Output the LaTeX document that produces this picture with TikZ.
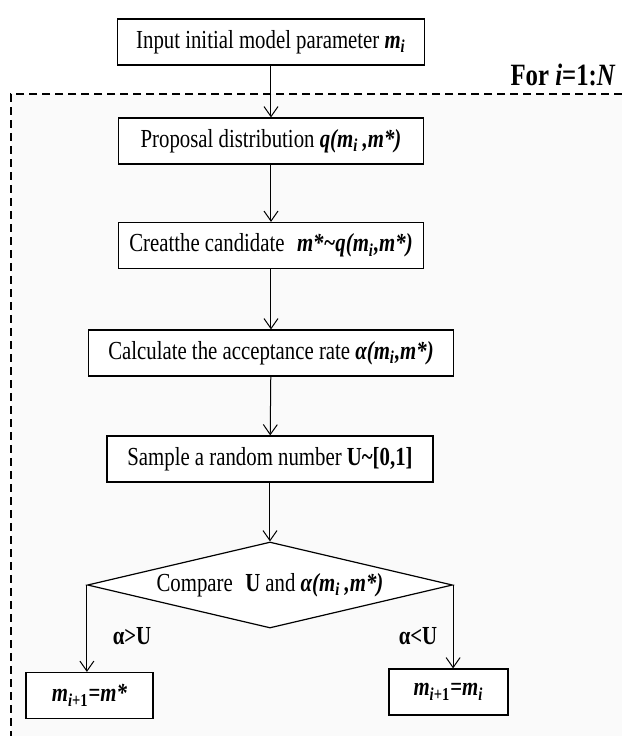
\documentclass[tikz,border=0pt]{standalone}
\usepackage{fontspec}
\setmainfont{Liberation Serif}[FakeStretch=0.8]
\usepackage{tikz}
\usetikzlibrary{shapes.geometric,arrows.meta,positioning}
\newcommand{\bi}[1]{\textbf{\textit{#1}}}
\begin{document}
\begin{tikzpicture}[
    x=0.5pt, y=-0.5pt,
    box/.style={rectangle, draw=black, line width=0.6pt, fill=white, minimum height=23pt, inner sep=0pt, align=center, font=\fontsize{13}{15}\selectfont},
    decision/.style={diamond, aspect=4.24, draw=black, line width=0.6pt, fill=white, minimum width=182.5pt, minimum height=43pt, inner sep=0pt, align=center, font=\fontsize{13}{15}\selectfont},
    line/.style={line width=0.5pt, draw=black, -{Straight Barb[length=5pt,width=7pt]}},
    cond/.style={font=\fontsize{13}{15}\selectfont\bfseries, inner sep=1pt}
]

\useasboundingbox (0,0) rectangle (622,736);

% Loop region
\fill[black!2] (11,94) rectangle (622,736);
\draw[line width=0.65pt, dash pattern=on 4pt off 2.5pt] (622,94) -- (11,94) -- (11,736);
\node[font=\fontsize{15.5}{18}\selectfont\bfseries, anchor=south east, inner sep=0pt] (loop) at (616,86) {For \bi{i}=1:\bi{N}};

% Steps
\node[box, minimum width=153.5pt] (input) at (271,42) {Input initial model parameter \bi{m}\textsubscript{\bi{i}}};
\node[box, minimum width=152.5pt] (proposal) at (271,141) {Proposal distribution \bi{q(m}\textsubscript{\bi{i}}\,\bi{,m*)}};
\node[box, minimum width=152.5pt] (candidate) at (271,245.5) {Creatthe candidate\; \bi{m*\textasciitilde q(m}\textsubscript{\bi{i}}\bi{,m*)}};
\node[box, minimum width=182.5pt] (rate) at (271,353) {Calculate the acceptance rate \bi{α(m}\textsubscript{\bi{i}}\bi{,m*)}};
\node[box, minimum width=163pt] (sample) at (270,459) {Sample a random number \textbf{U\textasciitilde[0,1]}};
\node[decision] (compare) at (270,585) {Compare\; \textbf{U} and \bi{α(m}\textsubscript{\bi{i}}\,\bi{,m*)}};

% Outcomes
\node[box, minimum width=63.5pt] (accept) at (89.5,695.5) {\bi{m}\textsubscript{\bi{i}\textbf{+1}}\textbf{=}\bi{m*}};
\node[box, minimum width=59.5pt] (reject) at (448.5,692) {\bi{m}\textsubscript{\bi{i}\textbf{+1}}\textbf{=}\bi{m}\textsubscript{\bi{i}}};

% Connections
\draw[line] (input) -- (proposal);
\draw[line] (proposal) -- (candidate);
\draw[line] (candidate) -- (rate);
\draw[line] (rate) -- (sample);
\draw[line] (sample) -- (compare);
\draw[line] (compare.west) -- (compare.west |- accept.north);
\draw[line] (compare.east) -- (compare.east |- reject.north);

% Conditions
\node[cond] (greater) at (132,636) {α>U};
\node[cond] (less) at (418,636) {α<U};

\end{tikzpicture}
\end{document}
